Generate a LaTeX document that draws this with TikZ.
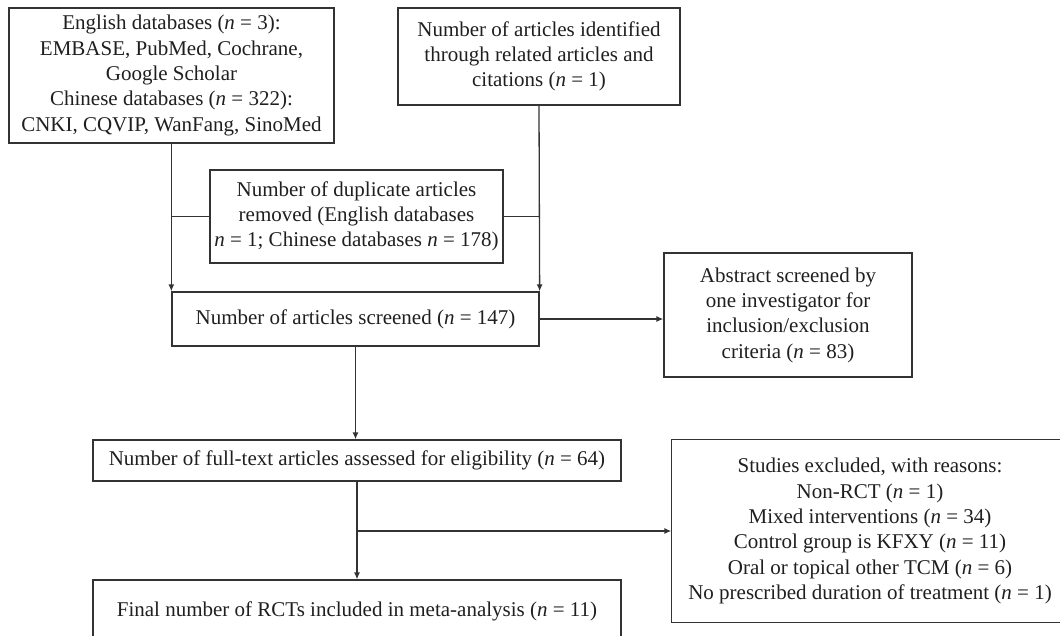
\documentclass[tikz,border=0pt]{standalone}
\usepackage{fontspec}
\setmainfont{Liberation Serif}
\usetikzlibrary{arrows.meta,calc}
\definecolor{ln}{rgb}{0.2,0.2,0.2}
\definecolor{tx}{rgb}{0.12,0.12,0.12}
\newcommand{\nn}{\textit{n}}
\begin{document}
\begin{tikzpicture}[x=1pt,y=-1pt,
  boxstyle/.style={draw=ln,line width=1.3pt,align=center,inner sep=0pt,
    text=tx,font=\fontsize{21}{25.3}\selectfont},
  arr/.style={draw=ln,line width=1.3pt,-{Latex[length=7pt,width=6pt]}},
  ln/.style={draw=ln,line width=1.3pt}]
\useasboundingbox (0,0) rectangle (1060,635);
\node[boxstyle,minimum width=325pt,minimum height=135pt] (A) at (171.5,75.5)
  {English databases (\nn{} = 3):\\EMBASE, PubMed, Cochrane,\\Google Scholar\\Chinese databases (\nn{} = 322):\\CNKI, CQVIP, WanFang, SinoMed};
\node[boxstyle,minimum width=282pt,minimum height=97pt] (B) at (539,56.5)
  {Number of articles identified\\through related articles and\\citations (\nn{} = 1)};
\node[boxstyle,minimum width=293pt,minimum height=93pt] (C) at (356.5,216.5)
  {Number of duplicate articles\\removed (English databases\\\nn{} = 1; Chinese databases \nn{} = 178)};
\node[boxstyle,minimum width=367pt,minimum height=54pt] (D) at (355.5,319)
  {Number of articles screened (\nn{} = 147)};
\node[boxstyle,minimum width=248pt,minimum height=124pt] (E) at (788,315)
  {Abstract screened by\\one investigator for\\inclusion/exclusion\\criteria (\nn{} = 83)};
\node[boxstyle,minimum width=528pt,minimum height=41pt] (F) at (357,460.5)
  {Number of full-text articles assessed for eligibility (\nn{} = 64)};
\node[boxstyle,minimum width=528pt,minimum height=62pt] (G) at (357,611)
  {Final number of RCTs included in meta-analysis (\nn{} = 11)};
\node[boxstyle,draw=none,minimum width=396pt,minimum height=182pt] (H) at (870,531)
  {Studies excluded, with reasons:\\Non-RCT (\nn{} = 1)\\Mixed interventions (\nn{} = 34)\\Control group is KFXY (\nn{} = 11)\\Oral or topical other TCM (\nn{} = 6)\\No prescribed duration of treatment (\nn{} = 1)};
\draw[ln] (H.north west) rectangle ($(H.south west)+(430,0)$);
\draw[arr] (A.south -| D.west) -- (D.north west);
\draw[ln] (C.west) -- (C.west -| D.west);
\draw[arr] (B.south) -- (D.north east);
\draw[ln] (C.east) -- (C.east -| B.south);
\draw[arr] (D.east) -- (D.east -| E.west);
\draw[arr] (D.south) -- (D.south |- F.north);
\draw[arr] (F.south) -- (F.south |- G.north);
\coordinate (br) at (F.south |- H.west);
\draw[arr] (br) -- (H.west);
\end{tikzpicture}
\end{document}
